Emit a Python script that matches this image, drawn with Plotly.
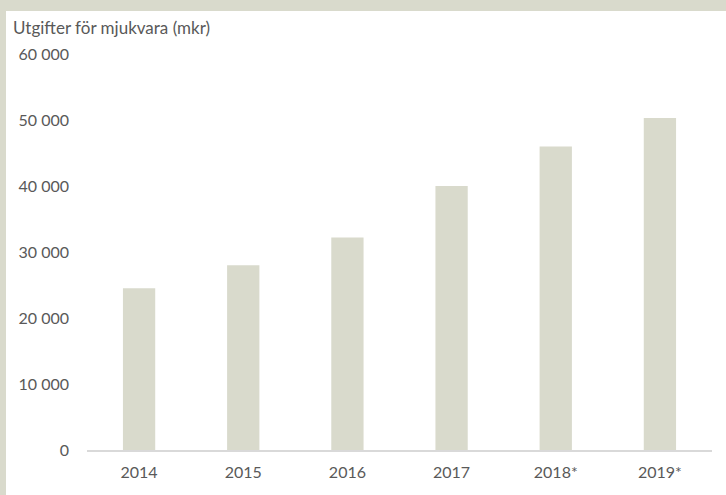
import plotly.graph_objects as go

years = ["2014", "2015", "2016", "2017", "2018*", "2019*"]
values = [24500, 28000, 32200, 40000, 46000, 50300]
tick_vals = [0, 10000, 20000, 30000, 40000, 50000, 60000]
tick_text = ["0", "10 000", "20 000", "30 000", "40 000", "50 000", "60 000"]
y_title = "Utgifter för mjukvara (mkr)"

W, H = 726, 495
L, R, T, B = 87, 14, 54, 45
pw, ph = W - L - R, H - T - B

def px(x):
    return (x - L) / pw

def py(y):
    return (H - B - y) / ph

beige = "#D9DACC"
txt = "#595959"
font = "Lato"

fig = go.Figure(go.Bar(x=years, y=values, marker=dict(color=beige, line=dict(width=0)), width=0.31))

fig.update_layout(
    width=W, height=H,
    margin=dict(l=L, r=R, t=T, b=B, pad=0),
    paper_bgcolor="white", plot_bgcolor="white",
    showlegend=False,
    font=dict(family=font, size=16, color=txt),
    xaxis=dict(showgrid=False, showline=True, linecolor="#D9D9D9", linewidth=1.5,
               ticks="", ticklabelstandoff=7, tickfont=dict(size=16, color=txt)),
    yaxis=dict(range=[0, 60000], showgrid=False, showline=False, zeroline=False,
               tickvals=tick_vals, ticktext=tick_text, ticks="",
               ticklabelstandoff=17, tickfont=dict(size=16, color=txt)),
    shapes=[
        dict(type="rect", xref="paper", yref="paper", x0=px(0), x1=px(W), y0=py(11), y1=py(0),
             fillcolor=beige, line=dict(width=0), layer="below"),
        dict(type="rect", xref="paper", yref="paper", x0=px(0), x1=px(6), y0=py(H), y1=py(0),
             fillcolor=beige, line=dict(width=0), layer="below"),
    ],
    annotations=[
        dict(text=y_title, xref="paper", yref="paper", x=px(11), y=py(28),
             xanchor="left", yanchor="middle", showarrow=False,
             font=dict(family=font, size=17, color=txt)),
    ],
)

fig.write_html("out.html", config={"displayModeBar": False},
               post_script="document.body.style.margin='0';document.body.style.overflow='hidden';")
